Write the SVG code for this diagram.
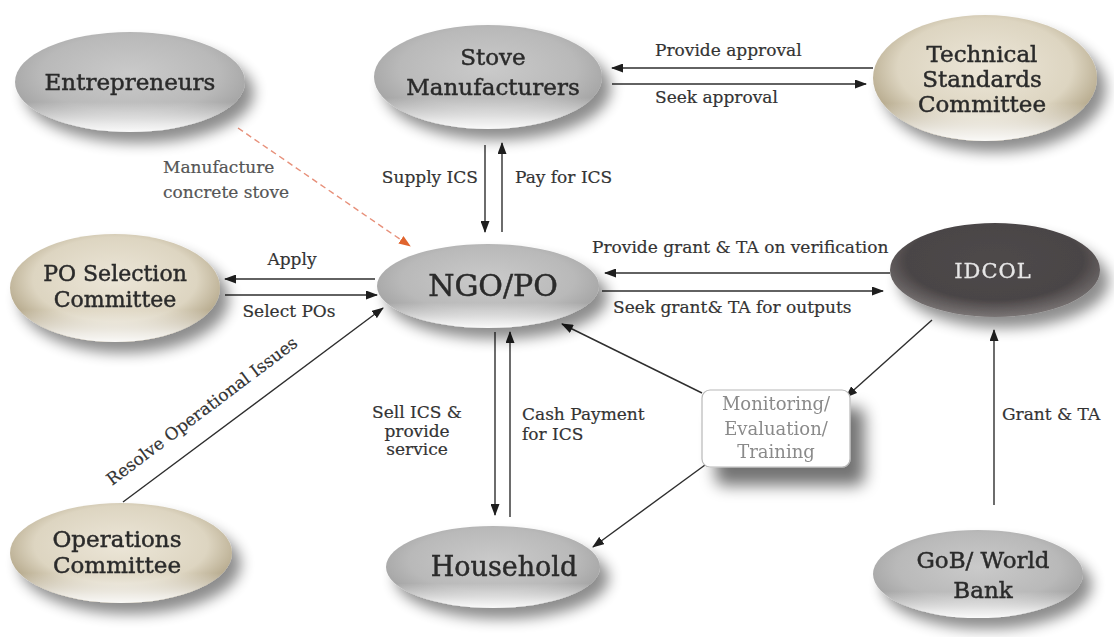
<svg xmlns="http://www.w3.org/2000/svg" width="1114" height="637" viewBox="0 0 1114 637">
<style>
.nl{font-family:"DejaVu Serif","Liberation Serif",serif;font-size:23px;fill:#2a2a2a;stroke:#2a2a2a;stroke-width:0.45px;text-anchor:middle}
.cl{font-family:"DejaVu Serif","Liberation Serif",serif;font-size:17px;fill:#333;stroke:#333;stroke-width:0.2px}
.ln{stroke:#2e2e2e;stroke-width:1.4;fill:none}
.arr{marker-end:url(#ah)}
.hl{fill:url(#hlg)}
</style>
<defs>
<marker id="ah" markerUnits="userSpaceOnUse" markerWidth="12" markerHeight="9" refX="11" refY="4.5" orient="auto"><path d="M0,0 L12,4.5 L0,9 z" fill="#1e1e1e"/></marker>
<marker id="ahr" markerUnits="userSpaceOnUse" markerWidth="12" markerHeight="9" refX="11" refY="4.5" orient="auto"><path d="M0,0 L12,4.5 L0,9 z" fill="#e0642e"/></marker>
<radialGradient id="gray" cx="50%" cy="42%" r="60%"><stop offset="0" stop-color="#cacaca"/><stop offset="0.65" stop-color="#b9b9b9"/><stop offset="1" stop-color="#9e9e9e"/></radialGradient>
<radialGradient id="beige" cx="50%" cy="42%" r="60%"><stop offset="0" stop-color="#ece6d8"/><stop offset="0.65" stop-color="#ddd5c1"/><stop offset="1" stop-color="#a99b7b"/></radialGradient>
<radialGradient id="dark" cx="50%" cy="40%" r="60%"><stop offset="0" stop-color="#4e494a"/><stop offset="0.7" stop-color="#4a4546"/><stop offset="1" stop-color="#7a7575"/></radialGradient>
<linearGradient id="hlg" x1="0" y1="0" x2="0" y2="1"><stop offset="0.7" stop-color="#fff" stop-opacity="0"/><stop offset="0.92" stop-color="#fff" stop-opacity="0.75"/><stop offset="1" stop-color="#fff" stop-opacity="0.95"/></linearGradient>
<filter id="sh" x="-20%" y="-20%" width="150%" height="160%"><feGaussianBlur in="SourceAlpha" stdDeviation="7"/><feOffset dx="9" dy="11" result="b"/><feComponentTransfer><feFuncA type="linear" slope="0.45"/></feComponentTransfer><feMerge><feMergeNode/><feMergeNode in="SourceGraphic"/></feMerge></filter>
<filter id="shb" x="-20%" y="-20%" width="160%" height="190%"><feGaussianBlur in="SourceAlpha" stdDeviation="8"/><feOffset dx="14" dy="18"/><feComponentTransfer><feFuncA type="linear" slope="0.55"/></feComponentTransfer><feMerge><feMergeNode/><feMergeNode in="SourceGraphic"/></feMerge></filter>
</defs>
<rect width="1114" height="637" fill="#fff"/>

<g id="connectors">
<line class="ln arr" x1="873" y1="68" x2="612" y2="68"/>
<line class="ln arr" x1="612" y1="84" x2="866" y2="84"/>
<line class="ln arr" x1="485" y1="145" x2="485" y2="232"/>
<line class="ln arr" x1="502" y1="232" x2="502" y2="143"/>
<line x1="238" y1="128" x2="410" y2="246" stroke="#e7907a" stroke-width="1.4" stroke-dasharray="6,4" marker-end="url(#ahr)"/>
<line class="ln arr" x1="375" y1="279" x2="225" y2="279"/>
<line class="ln arr" x1="225" y1="295" x2="377" y2="295"/>
<line class="ln arr" x1="123" y1="502" x2="383" y2="308"/>
<line class="ln arr" x1="890" y1="273" x2="605" y2="273"/>
<line class="ln arr" x1="602" y1="291" x2="883" y2="291"/>
<line class="ln arr" x1="495" y1="332" x2="495" y2="515"/>
<line class="ln arr" x1="510" y1="517" x2="510" y2="332"/>
<line class="ln arr" x1="702" y1="393" x2="562" y2="324"/>
<line class="ln arr" x1="932" y1="320" x2="846" y2="397"/>
<line class="ln arr" x1="705" y1="465" x2="593" y2="547"/>
<line class="ln arr" x1="994" y1="505" x2="994" y2="330"/>
<text class="cl" x="655" y="56">Provide approval</text>
<text class="cl" x="655" y="103">Seek approval</text>
<text class="cl" x="478" y="183" text-anchor="end">Supply ICS</text>
<text class="cl" x="515" y="183">Pay for ICS</text>
<text class="cl" x="163" y="173" style="fill:#555;stroke:#555">Manufacture</text>
<text class="cl" x="163" y="198" style="fill:#555;stroke:#555">concrete stove</text>
<text class="cl" x="292" y="265" text-anchor="middle">Apply</text>
<text class="cl" x="289" y="317" text-anchor="middle">Select POs</text>
<text class="cl" transform="translate(112,486) rotate(-37)">Resolve Operational Issues</text>
<text class="cl" x="592" y="253">Provide grant &amp; TA on verification</text>
<text class="cl" x="613" y="313">Seek grant&amp; TA for outputs</text>
<text class="cl" x="417" y="418" text-anchor="middle">Sell ICS &amp;</text>
<text class="cl" x="417" y="437" text-anchor="middle">provide</text>
<text class="cl" x="417" y="455" text-anchor="middle">service</text>
<text class="cl" x="522" y="420">Cash Payment</text>
<text class="cl" x="522" y="440">for ICS</text>
<text class="cl" x="1002" y="420">Grant &amp; TA</text>
</g>

<g id="entrepreneurs" filter="url(#sh)">
<ellipse cx="130" cy="82" rx="115" ry="50" fill="url(#gray)"/>
<ellipse class="hl" cx="130" cy="82" rx="115" ry="50"/>
<text class="nl" x="130" y="90">Entrepreneurs</text>
</g>
<g id="stove-manufacturers" filter="url(#sh)">
<ellipse cx="488" cy="77" rx="114" ry="52" fill="url(#gray)"/>
<ellipse class="hl" cx="488" cy="77" rx="114" ry="52"/>
<text class="nl" x="493" y="65">Stove</text>
<text class="nl" x="493" y="95">Manufacturers</text>
</g>
<g id="technical-standards-committee" filter="url(#sh)">
<ellipse cx="985" cy="78" rx="112" ry="63" fill="url(#beige)"/>
<ellipse class="hl" cx="985" cy="78" rx="112" ry="63"/>
<text class="nl" x="982" y="62">Technical</text>
<text class="nl" x="982" y="87">Standards</text>
<text class="nl" x="982" y="112">Committee</text>
</g>
<g id="po-selection-committee" filter="url(#sh)">
<ellipse cx="115" cy="288" rx="105" ry="54" fill="url(#beige)"/>
<ellipse class="hl" cx="115" cy="288" rx="105" ry="54"/>
<text class="nl" x="115" y="281" style="font-size:22px">PO Selection</text>
<text class="nl" x="115" y="307" style="font-size:22px">Committee</text>
</g>
<g id="ngo-po" filter="url(#sh)">
<ellipse cx="488" cy="286" rx="111" ry="42" fill="url(#gray)"/>
<ellipse class="hl" cx="488" cy="286" rx="111" ry="42"/>
<text class="nl" x="493" y="296" style="font-size:30px">NGO/PO</text>
</g>
<g id="idcol" filter="url(#sh)">
<ellipse cx="995" cy="270" rx="105" ry="47" fill="url(#dark)"/>
<text class="nl" x="993" y="278" style="font-size:21px;fill:#e6e6e6;stroke:#e6e6e6;stroke-width:0.3px;letter-spacing:1px">IDCOL</text>
</g>
<g id="operations-committee" filter="url(#sh)">
<ellipse cx="121" cy="553" rx="111" ry="50" fill="url(#beige)"/>
<ellipse class="hl" cx="121" cy="553" rx="111" ry="50"/>
<text class="nl" x="117" y="547">Operations</text>
<text class="nl" x="117" y="573">Committee</text>
</g>
<g id="household" filter="url(#sh)">
<ellipse cx="493" cy="567" rx="107" ry="41" fill="url(#gray)"/>
<ellipse class="hl" cx="493" cy="567" rx="107" ry="41"/>
<text class="nl" x="504" y="576" style="font-size:27px">Household</text>
</g>
<g id="gob-world-bank" filter="url(#sh)">
<ellipse cx="978" cy="574" rx="105" ry="44" fill="url(#gray)"/>
<ellipse class="hl" cx="978" cy="574" rx="105" ry="44"/>
<text class="nl" x="983" y="568">GoB/ World</text>
<text class="nl" x="983" y="598">Bank</text>
</g>
<g id="monitoring" filter="url(#shb)">
<rect x="702" y="390" width="148" height="77" rx="8" fill="#fff" stroke="#b8b8b8" stroke-width="1.2"/>
<text class="nl" x="776" y="410" style="font-size:18px;fill:#8a8a8a;stroke:none">Monitoring/</text>
<text class="nl" x="776" y="435" style="font-size:18px;fill:#8a8a8a;stroke:none">Evaluation/</text>
<text class="nl" x="776" y="458" style="font-size:18px;fill:#8a8a8a;stroke:none">Training</text>
</g>
</svg>
